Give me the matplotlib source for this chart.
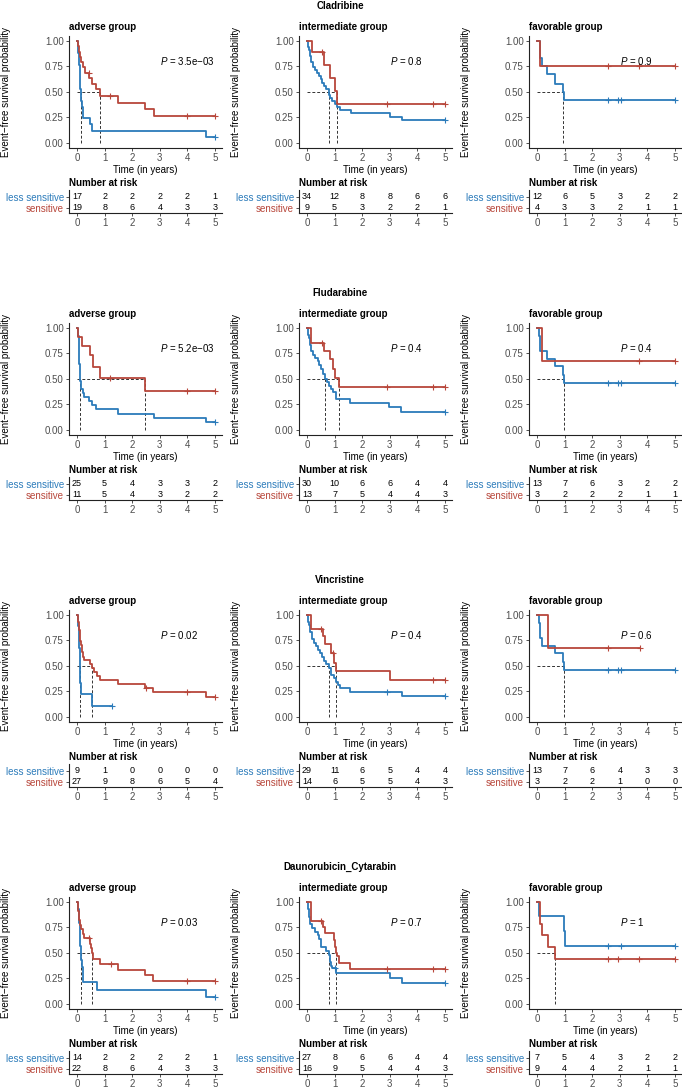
import numpy as np
import matplotlib.pyplot as plt

plt.rcParams['font.family'] = ['Liberation Sans', 'DejaVu Sans']
plt.rcParams['mathtext.fontset'] = 'custom'
plt.rcParams['mathtext.it'] = 'Liberation Sans:italic'
plt.rcParams['mathtext.rm'] = 'Liberation Sans'

drugs = ['Cladribine', 'Fludarabine', 'Vincristine', 'Daunorubicin_Cytarabin']
groups = ['adverse group', 'intermediate group', 'favorable group']
strata = ['less sensitive', 'sensitive']
risk_times = [0, 1, 2, 3, 4, 5]

# --- Cladribine ---
cla_adv_less_t = [0, 0.02, 0.04, 0.06, 0.08, 0.10, 0.11, 0.12, 0.13, 0.15, 0.17, 0.20, 0.23, 0.48, 0.54, 4.66]
cla_adv_less_s = [1, 0.94, 0.88, 0.82, 0.76, 0.71, 0.59, 0.53, 0.47, 0.41, 0.35, 0.29, 0.24, 0.18, 0.12, 0.06]
cla_adv_less_c = [5.0]
cla_adv_sens_t = [0, 0.03, 0.07, 0.10, 0.15, 0.20, 0.30, 0.45, 0.55, 0.70, 0.84, 1.47, 2.45, 2.78]
cla_adv_sens_s = [1, 0.95, 0.89, 0.84, 0.79, 0.74, 0.68, 0.63, 0.58, 0.53, 0.46, 0.39, 0.33, 0.26]
cla_adv_sens_c = [0.42, 1.2, 4.0, 5.0]
cla_adv_less_n = [17, 2, 2, 2, 2, 1]
cla_adv_sens_n = [19, 8, 6, 4, 3, 3]

cla_int_less_t = [0, 0.02, 0.05, 0.08, 0.12, 0.16, 0.20, 0.28, 0.35, 0.42, 0.50, 0.55, 0.62, 0.70, 0.78, 0.85, 0.92, 1.00, 1.10, 1.20, 1.58, 3.02, 3.45]
cla_int_less_s = [1, 0.97, 0.94, 0.91, 0.85, 0.79, 0.74, 0.71, 0.68, 0.65, 0.62, 0.59, 0.56, 0.53, 0.47, 0.44, 0.41, 0.38, 0.35, 0.32, 0.29, 0.25, 0.22]
cla_int_less_c = [5.0]
cla_int_sens_t = [0, 0.18, 0.60, 0.85, 1.03, 1.08]
cla_int_sens_s = [1, 0.89, 0.76, 0.63, 0.51, 0.38]
cla_int_sens_c = [0.54, 2.89, 4.55, 5.0]
cla_int_less_n = [34, 12, 8, 8, 6, 6]
cla_int_sens_n = [9, 5, 3, 2, 2, 1]

cla_fav_less_t = [0, 0.10, 0.18, 0.37, 0.65, 0.95, 0.99]
cla_fav_less_s = [1, 0.83, 0.75, 0.67, 0.58, 0.50, 0.42]
cla_fav_less_c = [2.56, 2.95, 3.04, 5.0]
cla_fav_sens_t = [0, 0.12]
cla_fav_sens_s = [1, 0.75]
cla_fav_sens_c = [2.56, 3.7, 5.0]
cla_fav_less_n = [12, 6, 5, 3, 2, 2]
cla_fav_sens_n = [4, 3, 3, 2, 1, 1]

# --- Fludarabine ---
flu_adv_less_t = [0, 0.02, 0.04, 0.06, 0.07, 0.08, 0.09, 0.10, 0.12, 0.14, 0.16, 0.20, 0.25, 0.42, 0.55, 0.70, 1.50, 2.77, 4.66]
flu_adv_less_s = [1, 0.96, 0.92, 0.88, 0.80, 0.72, 0.64, 0.56, 0.48, 0.44, 0.40, 0.36, 0.32, 0.28, 0.24, 0.20, 0.16, 0.12, 0.08]
flu_adv_less_c = [5.0]
flu_adv_sens_t = [0, 0.03, 0.18, 0.46, 0.57, 0.82, 2.45]
flu_adv_sens_s = [1, 0.91, 0.82, 0.73, 0.61, 0.51, 0.38]
flu_adv_sens_c = [1.2, 4.0, 5.0]
flu_adv_less_n = [25, 5, 4, 3, 3, 2]
flu_adv_sens_n = [11, 5, 4, 3, 2, 2]

flu_int_less_t = [0, 0.02, 0.05, 0.08, 0.12, 0.16, 0.22, 0.30, 0.38, 0.45, 0.50, 0.58, 0.66, 0.72, 0.80, 0.88, 0.95, 1.05, 1.57, 2.98, 3.40]
flu_int_less_s = [1, 0.97, 0.93, 0.90, 0.83, 0.77, 0.73, 0.70, 0.67, 0.63, 0.60, 0.55, 0.50, 0.47, 0.43, 0.40, 0.37, 0.30, 0.26, 0.22, 0.17]
flu_int_less_c = [5.0]
flu_int_sens_t = [0, 0.15, 0.60, 0.83, 0.93, 1.03, 1.17]
flu_int_sens_s = [1, 0.85, 0.77, 0.69, 0.60, 0.51, 0.42]
flu_int_sens_c = [0.54, 2.89, 4.55, 5.0]
flu_int_less_n = [30, 10, 6, 6, 4, 4]
flu_int_sens_n = [13, 7, 5, 4, 4, 3]

flu_fav_less_t = [0, 0.08, 0.12, 0.36, 0.65, 0.95, 0.99]
flu_fav_less_s = [1, 0.92, 0.77, 0.69, 0.62, 0.54, 0.46]
flu_fav_less_c = [2.56, 2.95, 3.04, 5.0]
flu_fav_sens_t = [0, 0.18]
flu_fav_sens_s = [1, 0.67]
flu_fav_sens_c = [3.7, 5.0]
flu_fav_less_n = [13, 7, 6, 3, 2, 2]
flu_fav_sens_n = [3, 2, 2, 2, 1, 1]

# --- Vincristine ---
vin_adv_less_t = [0, 0.05, 0.07, 0.09, 0.10, 0.11, 0.12, 0.13, 0.53]
vin_adv_less_s = [1, 0.89, 0.78, 0.67, 0.56, 0.44, 0.33, 0.22, 0.11]
vin_adv_less_c = [1.27]
vin_adv_sens_t = [0, 0.02, 0.04, 0.06, 0.08, 0.10, 0.12, 0.15, 0.18, 0.22, 0.25, 0.48, 0.54, 0.60, 0.72, 0.82, 1.48, 2.45, 2.75, 4.66]
vin_adv_sens_s = [1, 0.96, 0.93, 0.89, 0.85, 0.78, 0.74, 0.70, 0.63, 0.59, 0.56, 0.52, 0.48, 0.44, 0.40, 0.36, 0.32, 0.28, 0.24, 0.19]
vin_adv_sens_c = [2.5, 4.0, 5.0]
vin_adv_less_n = [9, 1, 0, 0, 0, 0]
vin_adv_sens_n = [27, 9, 8, 6, 5, 4]

vin_int_less_t = [0, 0.02, 0.05, 0.08, 0.12, 0.18, 0.25, 0.32, 0.40, 0.48, 0.55, 0.62, 0.70, 0.78, 0.88, 0.98, 1.05, 1.12, 1.20, 1.56, 3.43]
vin_int_less_s = [1, 0.97, 0.93, 0.90, 0.83, 0.76, 0.72, 0.69, 0.65, 0.62, 0.59, 0.55, 0.52, 0.48, 0.41, 0.38, 0.34, 0.31, 0.28, 0.24, 0.20]
vin_int_less_c = [2.89, 5.0]
vin_int_sens_t = [0, 0.15, 0.57, 0.65, 0.87, 0.98, 1.05, 3.02]
vin_int_sens_s = [1, 0.86, 0.79, 0.71, 0.62, 0.53, 0.45, 0.36]
vin_int_sens_c = [0.52, 0.95, 4.55, 5.0]
vin_int_less_n = [29, 11, 6, 5, 4, 4]
vin_int_sens_n = [14, 6, 5, 5, 4, 3]

vin_fav_less_t = [0, 0.08, 0.12, 0.18, 0.65, 0.95, 0.99]
vin_fav_less_s = [1, 0.92, 0.77, 0.69, 0.62, 0.54, 0.46]
vin_fav_less_c = [2.56, 2.95, 3.04, 5.0]
vin_fav_sens_t = [0, 0.41]
vin_fav_sens_s = [1, 0.67]
vin_fav_sens_c = [2.58, 3.73]
vin_fav_less_n = [13, 7, 6, 4, 3, 3]
vin_fav_sens_n = [3, 2, 2, 1, 0, 0]

# --- Daunorubicin_Cytarabin ---
dau_adv_less_t = [0, 0.04, 0.06, 0.08, 0.10, 0.11, 0.12, 0.13, 0.15, 0.18, 0.20, 0.22, 0.72, 4.66]
dau_adv_less_s = [1, 0.93, 0.86, 0.79, 0.71, 0.64, 0.57, 0.50, 0.43, 0.36, 0.29, 0.21, 0.14, 0.07]
dau_adv_less_c = [5.0]
dau_adv_sens_t = [0, 0.02, 0.04, 0.06, 0.08, 0.10, 0.14, 0.20, 0.26, 0.48, 0.52, 0.55, 0.57, 0.84, 1.48, 2.45, 2.75]
dau_adv_sens_s = [1, 0.95, 0.91, 0.86, 0.82, 0.77, 0.73, 0.68, 0.64, 0.59, 0.55, 0.50, 0.44, 0.39, 0.33, 0.28, 0.22]
dau_adv_sens_c = [0.42, 1.24, 4.0, 5.0]
dau_adv_less_n = [14, 2, 2, 2, 2, 1]
dau_adv_sens_n = [22, 8, 6, 4, 3, 3]

dau_int_less_t = [0, 0.02, 0.04, 0.06, 0.08, 0.12, 0.18, 0.30, 0.38, 0.45, 0.50, 0.70, 0.78, 0.82, 0.85, 0.88, 0.92, 1.05, 3.02, 3.43]
dau_int_less_s = [1, 0.96, 0.93, 0.89, 0.85, 0.78, 0.74, 0.70, 0.67, 0.63, 0.56, 0.52, 0.48, 0.44, 0.41, 0.37, 0.35, 0.30, 0.25, 0.20]
dau_int_less_c = [1.02, 5.0]
dau_int_sens_t = [0, 0.15, 0.57, 0.65, 0.99, 1.02, 1.06, 1.10, 1.17, 1.56]
dau_int_sens_s = [1, 0.81, 0.75, 0.69, 0.62, 0.56, 0.50, 0.47, 0.40, 0.34]
dau_int_sens_c = [0.52, 2.89, 4.55, 5.0]
dau_int_less_n = [27, 8, 6, 6, 4, 4]
dau_int_sens_n = [16, 9, 5, 4, 4, 3]

dau_fav_less_t = [0, 0.08, 0.97, 1.00]
dau_fav_less_s = [1, 0.86, 0.71, 0.57]
dau_fav_less_c = [2.56, 3.04, 5.0]
dau_fav_sens_t = [0, 0.10, 0.12, 0.18, 0.39, 0.66]
dau_fav_sens_s = [1, 0.89, 0.78, 0.67, 0.56, 0.44]
dau_fav_sens_c = [2.56, 2.95, 3.7, 5.0]
dau_fav_less_n = [7, 5, 4, 3, 2, 2]
dau_fav_sens_n = [9, 4, 4, 2, 1, 1]

pvalues = [['3.5e\u221203', '0.8', '0.9'],
           ['5.2e\u221203', '0.4', '0.4'],
           ['0.02', '0.4', '0.6'],
           ['0.03', '0.7', '1']]

panels = [
    [(cla_adv_less_t, cla_adv_less_s, cla_adv_less_c, cla_adv_sens_t, cla_adv_sens_s, cla_adv_sens_c, cla_adv_less_n, cla_adv_sens_n),
     (cla_int_less_t, cla_int_less_s, cla_int_less_c, cla_int_sens_t, cla_int_sens_s, cla_int_sens_c, cla_int_less_n, cla_int_sens_n),
     (cla_fav_less_t, cla_fav_less_s, cla_fav_less_c, cla_fav_sens_t, cla_fav_sens_s, cla_fav_sens_c, cla_fav_less_n, cla_fav_sens_n)],
    [(flu_adv_less_t, flu_adv_less_s, flu_adv_less_c, flu_adv_sens_t, flu_adv_sens_s, flu_adv_sens_c, flu_adv_less_n, flu_adv_sens_n),
     (flu_int_less_t, flu_int_less_s, flu_int_less_c, flu_int_sens_t, flu_int_sens_s, flu_int_sens_c, flu_int_less_n, flu_int_sens_n),
     (flu_fav_less_t, flu_fav_less_s, flu_fav_less_c, flu_fav_sens_t, flu_fav_sens_s, flu_fav_sens_c, flu_fav_less_n, flu_fav_sens_n)],
    [(vin_adv_less_t, vin_adv_less_s, vin_adv_less_c, vin_adv_sens_t, vin_adv_sens_s, vin_adv_sens_c, vin_adv_less_n, vin_adv_sens_n),
     (vin_int_less_t, vin_int_less_s, vin_int_less_c, vin_int_sens_t, vin_int_sens_s, vin_int_sens_c, vin_int_less_n, vin_int_sens_n),
     (vin_fav_less_t, vin_fav_less_s, vin_fav_less_c, vin_fav_sens_t, vin_fav_sens_s, vin_fav_sens_c, vin_fav_less_n, vin_fav_sens_n)],
    [(dau_adv_less_t, dau_adv_less_s, dau_adv_less_c, dau_adv_sens_t, dau_adv_sens_s, dau_adv_sens_c, dau_adv_less_n, dau_adv_sens_n),
     (dau_int_less_t, dau_int_less_s, dau_int_less_c, dau_int_sens_t, dau_int_sens_s, dau_int_sens_c, dau_int_less_n, dau_int_sens_n),
     (dau_fav_less_t, dau_fav_less_s, dau_fav_less_c, dau_fav_sens_t, dau_fav_sens_s, dau_fav_sens_c, dau_fav_less_n, dau_fav_sens_n)],
]

BLUE = '#2b7bba'
RED = '#b8473b'
GREY = '#4d4d4d'

W, H = 682, 1087
fig = plt.figure(figsize=(W / 100, H / 100), dpi=100)


def rect(x, y, w, h):
    return [x / W, 1 - (y + h) / H, w / W, h / H]


def style_axis(ax):
    for side in ['top', 'right']:
        ax.spines[side].set_visible(False)
    for side in ['left', 'bottom']:
        ax.spines[side].set_linewidth(0.8)
        ax.spines[side].set_color('#222222')
    ax.tick_params(length=2.2, width=0.6, color='#333333', labelcolor=GREY,
                   labelsize=7, pad=1.5)


def draw_curve(ax, t, s, cens, color):
    t = list(t)
    s = list(s)
    end = max(cens)
    ax.step(t + [end], s + [s[-1]], where='post', color=color, lw=1.3, zorder=3)
    idx = np.searchsorted(t, cens, side='right') - 1
    ax.plot(cens, np.array(s)[idx], ls='none', marker='+', ms=4.5, mew=0.8,
            color=color, zorder=4)
    below = [ti for ti, si in zip(t, s) if si <= 0.5]
    return below[0] if below else None


for r, drug in enumerate(drugs):
    oy = 287 * r
    fig.text(340 / W, 1 - (6 + oy) / H, drug, ha='center', va='center',
             fontsize=7, fontweight='bold')
    for c, group in enumerate(groups):
        ox = 69 + 230 * c
        lt, ls_, lc, st, ss, sc, ln, sn = panels[r][c]

        ax = fig.add_axes(rect(ox, 36 + oy, 153, 112))
        style_axis(ax)
        ax.set_xlim(-0.29, 5.25)
        ax.set_ylim(-0.05, 1.045)
        ax.set_xticks(risk_times)
        ax.set_yticks([0, 0.25, 0.5, 0.75, 1.0])
        ax.set_yticklabels(['0.00', '0.25', '0.50', '0.75', '1.00'])

        meds = []
        for t, s, cens, color in [(lt, ls_, lc, BLUE), (st, ss, sc, RED)]:
            m = draw_curve(ax, t, s, cens, color)
            if m is not None:
                meds.append(m)
        if meds:
            ax.plot([0, max(meds)], [0.5, 0.5], ls=(0, (3, 2)), color='#333333',
                    lw=0.7, zorder=2)
            for m in meds:
                ax.plot([m, m], [0, 0.5], ls=(0, (3, 2)), color='#333333',
                        lw=0.7, zorder=2)

        ax.text(3, 0.8, r'$P$ = ' + pvalues[r][c], fontsize=7, ha='left',
                va='center', zorder=5)
        ax.set_xlabel('Time (in years)', fontsize=7, labelpad=1)
        ax.set_ylabel('Event\u2212free survival probability', fontsize=7)
        ax.yaxis.label.set_va('center')
        ax.yaxis.set_label_coords(-63 / 153, 0.5)
        ax.set_title(group, fontsize=7, fontweight='bold', loc='left', pad=4)

        # risk table
        rx = fig.add_axes(rect(ox, 190 + oy, 153, 23))
        style_axis(rx)
        rx.set_xlim(-0.29, 5.25)
        rx.set_ylim(0.52, 2.61)
        rx.set_xticks(risk_times)
        rx.set_yticks([2, 1])
        rx.set_yticklabels(strata)
        for lab, col in zip(rx.get_yticklabels(), [BLUE, RED]):
            lab.set_color(col)
        for tt, n1, n2 in zip(risk_times, ln, sn):
            rx.text(tt, 2, str(n1), ha='center', va='center', fontsize=6.5)
            rx.text(tt, 1, str(n2), ha='center', va='center', fontsize=6.5)
        rx.set_title('Number at risk', fontsize=7, fontweight='bold',
                     loc='left', pad=3)

fig.savefig('out.png', dpi=100)
